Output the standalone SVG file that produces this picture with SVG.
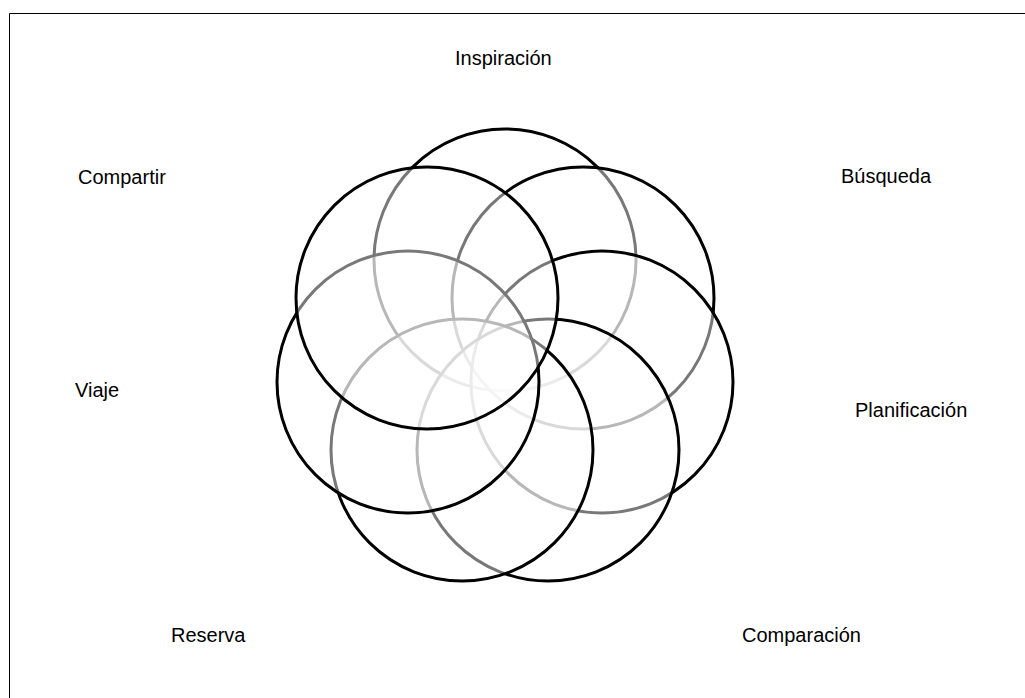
<svg xmlns="http://www.w3.org/2000/svg" width="1025" height="698" viewBox="0 0 1025 698">
<style>
.c{fill:#fff;fill-opacity:0.47;stroke:#000;stroke-width:3}
.t{font-family:"Liberation Sans",Arial,sans-serif;font-size:20px;fill:#000}
</style>
<rect x="0" y="0" width="1025" height="698" fill="#fff"/>
<path d="M9.5 698 V13.5 H1025" fill="none" stroke="#000" stroke-width="1"/>
<g id="connectors"></g>
<g id="n-inspiracion"><circle class="c" cx="505" cy="260" r="131"/><text class="t" x="455" y="65">Inspiración</text></g>
<g id="n-busqueda"><circle class="c" cx="583" cy="298" r="131"/><text class="t" x="841" y="183">Búsqueda</text></g>
<g id="n-planificacion"><circle class="c" cx="602" cy="382" r="131"/><text class="t" x="855" y="417">Planificación</text></g>
<g id="n-comparacion"><circle class="c" cx="548" cy="450" r="131"/><text class="t" x="742" y="642">Comparación</text></g>
<g id="n-reserva"><circle class="c" cx="462" cy="450" r="131"/><text class="t" x="171" y="642">Reserva</text></g>
<g id="n-viaje"><circle class="c" cx="408" cy="382" r="131"/><text class="t" x="75" y="397">Viaje</text></g>
<g id="n-compartir"><circle class="c" cx="427" cy="298" r="131"/><text class="t" x="78" y="184">Compartir</text></g>
</svg>
